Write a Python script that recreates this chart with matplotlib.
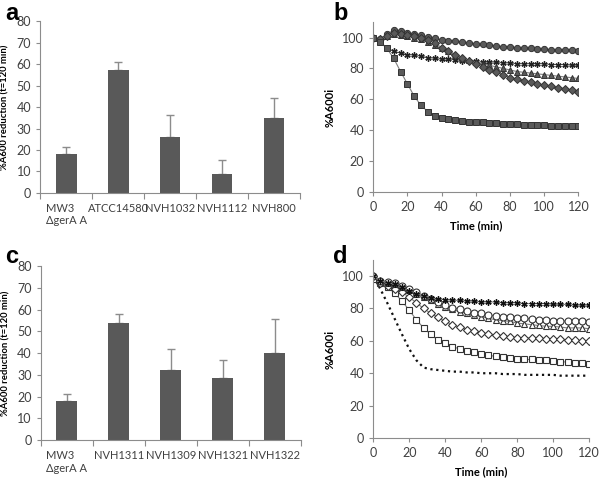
import numpy as np
import matplotlib
matplotlib.use("Agg")
import matplotlib.pyplot as plt

plt.rcParams["font.family"] = ["Lato", "DejaVu Sans"]

# panel a / c: bar data
strains_a = ["MW3\nΔgerA A", "ATCC14580", "NVH1032", "NVH1112", "NVH800"]
red_a = [18.0, 57.1, 26.2, 8.7, 34.8]
err_a = [3.3, 4.1, 10.3, 6.7, 9.6]

strains_c = ["MW3\nΔgerA A", "NVH1311", "NVH1309", "NVH1321", "NVH1322"]
red_c = [18.2, 54.0, 32.4, 28.6, 40.3]
err_c = [3.1, 4.0, 9.5, 8.4, 15.4]

# panel b / d: time courses, every 4 min
time = list(range(0, 121, 4))

b_circle = [100, 99, 102, 105, 104, 103, 102, 101.5, 100.5, 99.5, 98.5, 98, 97.5, 97, 96.5, 96,
            95.5, 95, 94.5, 94, 94, 93.5, 93, 93, 92.5, 92.5, 92, 92, 92, 92, 91.5]
b_star = [100, 97, 93.5, 91, 90, 89, 88.5, 88, 87, 86.5, 86, 86, 85.5, 85, 85, 84.5,
          84, 84, 84, 83.5, 83.5, 83, 83, 83, 83, 83, 82.5, 82.5, 82.5, 82, 82]
b_triangle = [100, 100, 101, 102, 101.5, 101, 100, 99, 97, 95, 93, 91, 89, 87, 85.5, 84,
              83, 82, 81, 80, 79, 78, 77.5, 77, 76.5, 76, 75.5, 75, 74.5, 74, 73.5]
b_diamond = [100, 99, 101, 103, 102, 101.5, 101, 100, 98.5, 96.5, 93.5, 91.5, 89, 87, 85, 83,
             81, 79, 77.5, 76, 74, 73, 72, 71, 70, 69, 68.5, 67.5, 67, 66, 65]
b_square = [100, 97, 93, 86.5, 78, 70, 62, 56, 52, 49.5, 48, 47, 46.5, 46, 45.5, 45,
            45, 44.5, 44.5, 44, 44, 44, 43.5, 43.5, 43.5, 43.5, 43, 43, 43, 43, 43]

d_star = [100, 97, 96, 95, 93, 91, 89, 87.5, 86.5, 86, 85.5, 85, 85, 84.5, 84.5, 84,
          84, 84, 83.5, 83.5, 83.5, 83, 83, 83, 83, 82.5, 82.5, 82.5, 82, 82, 82]
d_circle = [100, 97, 96.5, 95.5, 94, 92, 90, 88, 86, 84, 82, 80.5, 79.5, 78.5, 77.5, 77,
            76, 75.5, 75, 74.5, 74, 74, 73.5, 73, 73, 72.5, 72.5, 72, 72, 72, 71.5]
d_triangle = [100, 97.5, 96, 95, 93.5, 91.5, 89, 87, 85, 83, 81, 79.5, 78, 77, 76, 75,
              74, 73, 72.5, 72, 71, 70.5, 70, 69.5, 69, 69, 68.5, 68, 68, 68, 67.5]
d_diamond = [100, 96, 94, 92, 90, 87, 83.5, 80, 77, 74.5, 72, 70, 68.5, 67, 66, 65,
             64, 63.5, 63, 62.5, 62, 62, 61.5, 61.5, 61, 61, 61, 60.5, 60.5, 60, 60]
d_square = [98.5, 96, 93, 89.5, 84.5, 79, 73, 68, 64, 60.5, 58.5, 56.5, 55, 54, 53, 52,
            51, 50.5, 50, 49.5, 49, 48.5, 48.5, 48, 48, 47.5, 47, 47, 46.5, 46.5, 46]
d_dotted = [100, 92, 83, 73.5, 64, 55, 48, 43.5, 42.5, 42, 41.5, 41, 41, 40.5, 40.5, 40,
            40, 40, 39.5, 39.5, 39.5, 39, 39, 39, 39, 39, 38.5, 38.5, 38.5, 38.5, 38.5]

AXC = "#8c8c8c"
TXT = "#404040"
BAR = "#595959"


def style_axes(ax):
    for s in ("top", "right"):
        ax.spines[s].set_visible(False)
    for s in ("left", "bottom"):
        ax.spines[s].set_color(AXC)
        ax.spines[s].set_linewidth(0.8)
    ax.tick_params(colors=AXC, labelcolor=TXT, labelsize=9, length=3, width=0.8)


def bar_panel(ax, labels, vals, errs):
    x = np.arange(len(labels))
    ax.bar(x, vals, width=0.4, color=BAR, zorder=2)
    ax.errorbar(x, vals, yerr=[np.zeros(len(errs)), errs], fmt="none",
                ecolor=AXC, elinewidth=1, capsize=3, capthick=1, zorder=1)
    ax.set_xlim(-0.5, len(labels) - 0.5)
    ax.set_ylim(0, 80)
    ax.set_yticks(range(0, 81, 10))
    style_axes(ax)
    ax.set_xticks(x)
    ax.set_xticklabels(labels, ha="center", multialignment="left")
    ax.set_xticks(np.arange(-0.5, len(labels), 1.0), minor=True)
    ax.tick_params(axis="x", which="major", length=0, pad=7, labelsize=8)
    ax.tick_params(axis="x", which="minor", length=4, colors=AXC, width=0.8)
    ax.set_ylabel("%A600 reduction (t=120 min)", fontsize=6.8, fontweight="bold", labelpad=5)


def time_panel(ax):
    ax.set_xlim(0, 120)
    ax.set_ylim(0, 110)
    ax.set_xticks(range(0, 121, 20))
    ax.set_yticks(range(0, 101, 20))
    style_axes(ax)
    ax.set_xlabel("Time (min)", fontsize=8, fontweight="bold", labelpad=5)
    ax.set_ylabel("%A600i", fontsize=8, fontweight="bold", labelpad=5)


fig = plt.figure(figsize=(6, 4.8), dpi=100)

ax_a = fig.add_axes([0.067, 0.598, 0.433, 0.358])
bar_panel(ax_a, strains_a, red_a, err_a)

ax_c = fig.add_axes([0.068, 0.083, 0.433, 0.3625])
bar_panel(ax_c, strains_c, red_c, err_c)

ax_b = fig.add_axes([0.622, 0.600, 0.342, 0.354])
time_panel(ax_b)
ln = dict(color="#7f7f7f", lw=0.8, markeredgecolor="#333333", markerfacecolor="#5a5a5a",
          markeredgewidth=0.7)
ax_b.plot(time, b_circle, marker="o", ms=4.5, **ln)
ax_b.plot(time, b_star, marker=(6, 2, 0), ms=4.5, color="#7f7f7f", lw=0.8,
          markeredgecolor="#222222", markeredgewidth=1.0)
ax_b.plot(time, b_triangle, marker="^", ms=4.5, **ln)
ax_b.plot(time, b_diamond, marker="D", ms=4, **ln)
ax_b.plot(time, b_square, marker="s", ms=4.5, **ln)

ax_d = fig.add_axes([0.622, 0.0875, 0.360, 0.371])
time_panel(ax_d)
op = dict(color="#7f7f7f", lw=0.8, markeredgecolor="#333333", markerfacecolor="white",
          markeredgewidth=0.8)
ax_d.plot(time, d_dotted, ls=":", color="#111111", lw=1.6)
ax_d.plot(time, d_square, marker="s", ms=5, **op)
ax_d.plot(time, d_diamond, marker="D", ms=4.5, **op)
ax_d.plot(time, d_triangle, marker="^", ms=5, **op)
ax_d.plot(time, d_circle, marker="o", ms=5, **op)
ax_d.plot(time, d_star, marker=(6, 2, 0), ms=4.5, color="#7f7f7f", lw=0.8,
          markeredgecolor="#111111", markeredgewidth=1.0)

for lab, xx, yy in (("a", 0.008, 0.995), ("b", 0.555, 0.995), ("c", 0.008, 0.49), ("d", 0.555, 0.49)):
    fig.text(xx, yy, lab, fontsize=17, fontweight="bold", ha="left", va="top",
             family=["Liberation Sans", "DejaVu Sans"])

fig.savefig("out.png", dpi=100)
